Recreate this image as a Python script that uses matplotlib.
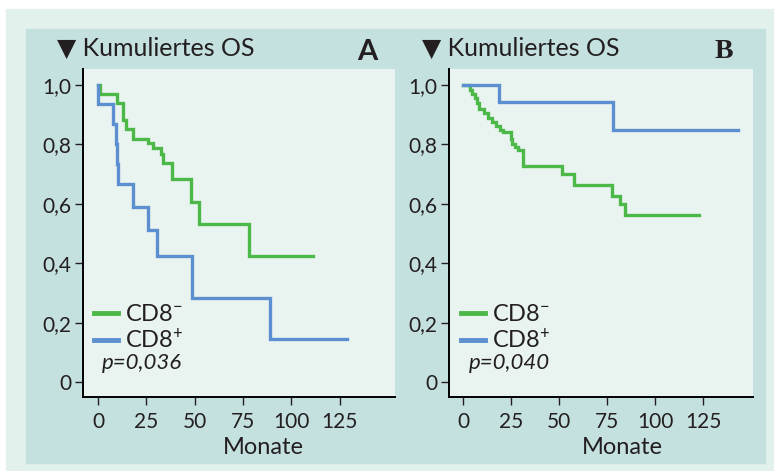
import matplotlib
matplotlib.use("Agg")
import matplotlib.pyplot as plt
from matplotlib.patches import Rectangle

plt.rcParams['font.family'] = ['Lato', 'DejaVu Sans']
plt.rcParams['mathtext.fontset'] = 'custom'
plt.rcParams['mathtext.rm'] = 'Lato'
plt.rcParams['mathtext.it'] = 'Lato:italic'

# ---------------- data ----------------
# Panel A
a_neg_t = [0, 1, 9.7, 13.1, 14.3, 17.9, 26, 28.3, 32.4, 33.5, 38.1, 48.1, 52.3, 78.2, 111.5]
a_neg_s = [1.0, 0.971, 0.941, 0.881, 0.851, 0.82, 0.804, 0.787, 0.769, 0.739, 0.684, 0.606, 0.532, 0.425, 0.425]
a_pos_t = [0, 0.2, 7.9, 9.3, 10.0, 10.5, 18.3, 26, 30.4, 48.5, 89, 129]
a_pos_s = [1.0, 0.935, 0.868, 0.80, 0.733, 0.668, 0.591, 0.513, 0.425, 0.282, 0.144, 0.144]
# Panel B
b_neg_t = [0, 3.6, 4.5, 6, 7.5, 8.3, 11, 13, 15, 17, 19.5, 21, 25, 25.6, 27, 28.5, 31.4, 51.4, 57.8, 77.4, 81.8, 84.4, 123]
b_neg_s = [1.0, 0.985, 0.97, 0.955, 0.94, 0.92, 0.905, 0.89, 0.875, 0.862, 0.85, 0.842, 0.82, 0.80, 0.79, 0.781, 0.729, 0.701, 0.664, 0.625, 0.60, 0.563, 0.563]
b_pos_t = [0, 18.8, 78.3, 143.4]
b_pos_s = [1.0, 0.942, 0.85, 0.85]

labels = ['CD8$^{-}$', 'CD8$^{+}$']
p_values = ['p=0,036', 'p=0,040']
panel_letters = ['A', 'B']
title = '\u25BC Kumuliertes OS'
xticks = [0, 25, 50, 75, 100, 125]
yticks = [0, 0.2, 0.4, 0.6, 0.8, 1.0]
ytick_labels = ['0', '0,2', '0,4', '0,6', '0,8', '1,0']
xlabel = 'Monate'

GREEN = '#4cb848'
BLUE = '#5b8fd0'
OUTER = '#e3f1ec'
PANEL = '#c5e1df'
PLOT = '#e9f4f1'
TXT = '#231f20'

W, H = 774, 471
fig = plt.figure(figsize=(W / 100, H / 100), dpi=100)
fig.patch.set_facecolor('white')

def px_rect(x0, y0, x1, y1, color):
    fig.patches.append(Rectangle((x0 / W, 1 - y1 / H), (x1 - x0) / W, (y1 - y0) / H,
                                 transform=fig.transFigure, color=color, zorder=-10))

px_rect(6, 9, 774, 471, OUTER)
px_rect(26, 29, 765, 463, PANEL)

def make_axes(left, right, top, bottom):
    return fig.add_axes([left / W, 1 - bottom / H, (right - left) / W, (bottom - top) / H])

axA = make_axes(83, 395, 69, 397)
axB = make_axes(449, 753, 69, 397)

panels = [
    (axA, a_neg_t, a_neg_s, a_pos_t, a_pos_s, (-7.8, 153.7), 0.035, 57, 367, 263, panel_letters[0]),
    (axB, b_neg_t, b_neg_s, b_pos_t, b_pos_s, (-7.3, 151.0), 0.04, 422, 724, 622, panel_letters[1]),
]

for i, (ax, nt, ns, pt, ps, xlim, legx, title_x, letter_x, xlab_x, letter) in enumerate(panels):
    ax.set_facecolor(PLOT)
    l1, = ax.step(nt, ns, where='post', color=GREEN, lw=2.4, solid_joinstyle='miter')
    l2, = ax.step(pt, ps, where='post', color=BLUE, lw=2.4, solid_joinstyle='miter')
    ax.set_xlim(*xlim)
    ax.set_ylim(-0.05, 1.054)
    for s in ['top', 'right']:
        ax.spines[s].set_visible(False)
    for s in ['left', 'bottom']:
        ax.spines[s].set_linewidth(1.4)
        ax.spines[s].set_color('black')
    ax.set_xticks(xticks)
    ax.set_xticklabels([str(v) for v in xticks])
    ax.set_yticks(yticks)
    ax.set_yticklabels(ytick_labels)
    ax.tick_params(axis='both', labelsize=15, colors=TXT, length=5.5, width=1.0, pad=3)
    ax.tick_params(axis='x', pad=5)
    leg = ax.legend([l1, l2], labels, loc='upper left', bbox_to_anchor=(legx, 0.283),
                    frameon=False, handlelength=1.0, handletextpad=0.3, labelspacing=0.1,
                    borderpad=0, borderaxespad=0, fontsize=17)
    for line in leg.get_lines():
        line.set_linewidth(3.5)
    for t in leg.get_texts():
        t.set_color(TXT)
    ax.text(legx + 0.025, 0.105, p_values[i], transform=ax.transAxes, fontsize=16,
            style='italic', color=TXT, va='center', ha='left')
    fig.text(title_x / W, 1 - 48 / H, title, fontsize=18, color=TXT, va='center', ha='left',
             family=['Lato', 'DejaVu Sans'])
    if letter == 'A':
        fig.text(letter_x / W, 1 - 52 / H, letter, fontsize=21, weight='bold', color=TXT,
                 va='center', ha='center', family=['Lato', 'DejaVu Sans'])
    else:
        fig.text(letter_x / W, 1 - 52 / H, letter, fontsize=20, weight='bold', color=TXT,
                 va='center', ha='center', family=['Liberation Serif', 'DejaVu Serif'])
    fig.text(xlab_x / W, 1 - 447 / H, xlabel, fontsize=17, color=TXT, va='center', ha='center')

fig.savefig('out.png', dpi=100, facecolor=fig.get_facecolor())
